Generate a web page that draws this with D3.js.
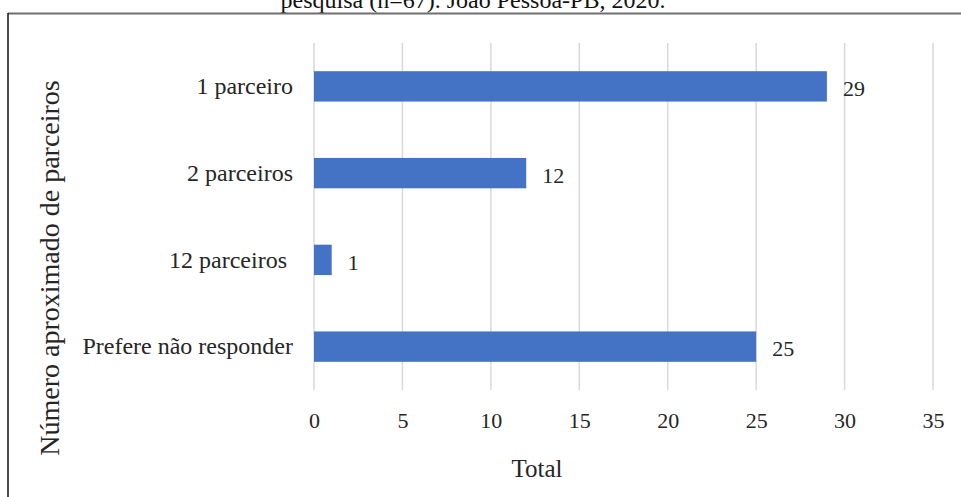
<!DOCTYPE html>
<html>
<head>
<meta charset="utf-8">
<script src="https://cdn.jsdelivr.net/npm/d3@7/dist/d3.min.js"></script>
<style>
  html, body { margin: 0; padding: 0; background: #fff; }
  svg text { font-family: "Liberation Serif", "Times New Roman", serif; fill: #262626; }
</style>
</head>
<body>
<svg id="chart" width="961" height="497"></svg>
<script>
// Respondents by approximate number of partners
const categories = ["1 parceiro", "2 parceiros", "12 parceiros", "Prefere não responder"];
const totals = [29, 12, 1, 25];
const xTicks = [0, 5, 10, 15, 20, 25, 30, 35];
const titleText = "pesquisa (n=67). João Pessoa-PB, 2020.";
const xTitle = "Total";
const yTitle = "Número aproximado de parceiros";

const svg = d3.select("#chart");

// caption line above the frame
svg.append("text")
  .attr("x", 473).attr("y", 8)
  .attr("text-anchor", "middle")
  .style("font-size", "24px")
  .style("fill", "#111")
  .text(titleText);

// frame
svg.append("line").attr("x1", 8).attr("x2", 961).attr("y1", 13.5).attr("y2", 13.5)
  .attr("stroke", "#6e6e6e").attr("stroke-width", 2);
svg.append("line").attr("x1", 8).attr("x2", 8).attr("y1", 13).attr("y2", 497)
  .attr("stroke", "#111").attr("stroke-width", 1.5);

const x = d3.scaleLinear().domain([0, 35]).range([314, 933]);
const y = d3.scaleBand().domain(categories).range([43, 390]).paddingInner(0.65).paddingOuter(0.325);

// vertical gridlines
svg.append("g").selectAll("line").data(xTicks).join("line")
  .attr("x1", d => x(d)).attr("x2", d => x(d))
  .attr("y1", 43).attr("y2", 390)
  .attr("stroke", "#d9d9d9").attr("stroke-width", 1.5);

// bars
svg.append("g").selectAll("rect").data(totals).join("rect")
  .attr("x", x(0))
  .attr("y", (d, i) => y(categories[i]))
  .attr("width", d => x(d) - x(0))
  .attr("height", y.bandwidth())
  .attr("fill", "#4472c4");

// value labels
svg.append("g").selectAll("text").data(totals).join("text")
  .attr("x", d => x(d) + 16)
  .attr("y", (d, i) => y(categories[i]) + y.bandwidth() / 2 + 2)
  .attr("dy", "0.35em")
  .style("font-size", "22px")
  .text(d => d);

// category axis labels
const yAxis = d3.axisLeft(y).tickSize(0).tickPadding(21);
const gy = svg.append("g").attr("transform", `translate(${x(0)},0)`).call(yAxis);
gy.select(".domain").remove();
gy.selectAll("text")
  .style("font-size", "24px")
  .style("font-family", "'Liberation Serif', serif")
  .style("fill", "#262626")
  .attr("dx", d => d === "12 parceiros" ? -6 : 0);

// value axis labels
const xAxis = d3.axisBottom(x).tickValues(xTicks).tickSize(0).tickPadding(0);
const gx = svg.append("g").attr("transform", "translate(0,412)").call(xAxis);
gx.select(".domain").remove();
gx.selectAll("text")
  .style("font-size", "22px")
  .style("font-family", "'Liberation Serif', serif")
  .style("fill", "#262626");

// axis titles
svg.append("text")
  .attr("x", 537).attr("y", 477)
  .attr("text-anchor", "middle")
  .style("font-size", "25px")
  .text(xTitle);

svg.append("text")
  .attr("transform", "translate(59,268) rotate(-90)")
  .attr("text-anchor", "middle")
  .style("font-size", "28px")
  .text(yTitle);
</script>
</body>
</html>
